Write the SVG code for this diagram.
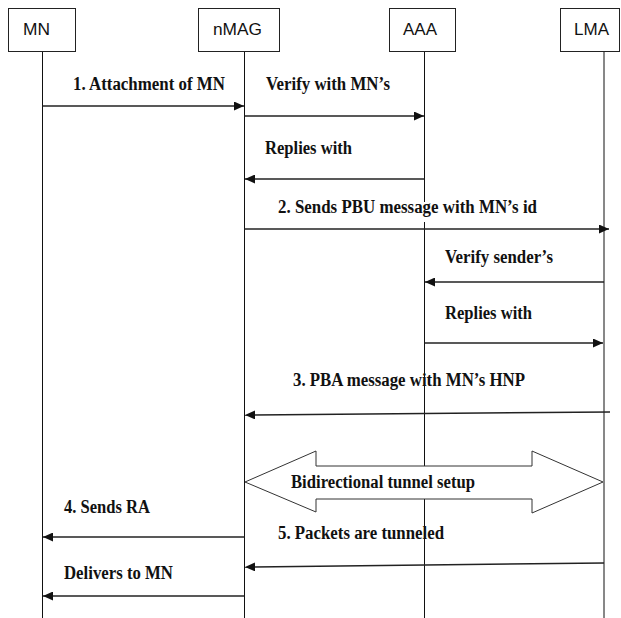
<svg xmlns="http://www.w3.org/2000/svg" width="621" height="618" viewBox="0 0 621 618">
<style>
.box{fill:#fff;stroke:#222;stroke-width:1}
.life{stroke:#111;stroke-width:1;fill:none}
.name{font-family:"Liberation Sans",Arial,sans-serif;font-size:16px;fill:#111}
.msg{stroke:#222;stroke-width:1.5;fill:none;marker-end:url(#ah)}
.lbl{font-family:"Liberation Serif","Times New Roman",serif;font-weight:bold;font-size:18px;fill:#111}
.tun{fill:#fff;stroke:#333;stroke-width:1}
</style>
<defs>
<marker id="ah" markerUnits="userSpaceOnUse" markerWidth="10" markerHeight="9" refX="10" refY="4.5" orient="auto">
<path d="M0,0 L10,4.5 L0,9 z" fill="#111"/>
</marker>
</defs>
<rect width="621" height="618" fill="#fff"/>
<g id="node-MN">
<line class="life" x1="42.5" y1="51" x2="42.5" y2="618"/>
<rect class="box" x="8.5" y="8.5" width="67" height="43"/>
<text class="name" x="23" y="35" textLength="27" lengthAdjust="spacingAndGlyphs">MN</text>
</g>
<g id="node-nMAG">
<line class="life" x1="244.5" y1="51" x2="244.5" y2="618"/>
<rect class="box" x="198.5" y="8.5" width="81" height="43"/>
<text class="name" x="213" y="35" textLength="49" lengthAdjust="spacingAndGlyphs">nMAG</text>
</g>
<g id="node-AAA">
<line class="life" x1="424.5" y1="51" x2="424.5" y2="202"/>
<line class="life" x1="424.5" y1="222" x2="424.5" y2="618"/>
<rect class="box" x="389.5" y="8.5" width="66" height="43"/>
<text class="name" x="403" y="35" textLength="34" lengthAdjust="spacingAndGlyphs">AAA</text>
</g>
<g id="node-LMA">
<line class="life" x1="604" y1="51" x2="604" y2="618"/>
<rect class="box" x="560.5" y="8.5" width="59" height="43"/>
<text class="name" x="574" y="35" textLength="35" lengthAdjust="spacingAndGlyphs">LMA</text>
</g>
<g id="connectors">
<line class="msg" x1="42.5" y1="106" x2="244" y2="106"/>
<line class="msg" x1="244.5" y1="116" x2="424" y2="116"/>
<line class="msg" x1="424.5" y1="179" x2="245" y2="179"/>
<line class="msg" x1="244.5" y1="229" x2="609" y2="229"/>
<line class="msg" x1="604" y1="282" x2="425" y2="282"/>
<line class="msg" x1="424.5" y1="343" x2="603" y2="343"/>
<line class="msg" x1="610" y1="412" x2="245" y2="415"/>
<polygon class="tun" points="245,482 316,451 316,466 532,466 532,451 603,482 532,513 532,499 316,499 316,512"/>
<line class="msg" x1="244.5" y1="537" x2="43" y2="537"/>
<line class="msg" x1="604" y1="563" x2="245" y2="567"/>
<line class="msg" x1="244.5" y1="596" x2="43" y2="596"/>
</g>
<g id="labels">
<text class="lbl" x="73" y="90" textLength="152" lengthAdjust="spacingAndGlyphs">1. Attachment of MN</text>
<text class="lbl" x="266" y="90" textLength="124" lengthAdjust="spacingAndGlyphs">Verify with MN’s</text>
<text class="lbl" x="265" y="154" textLength="87" lengthAdjust="spacingAndGlyphs">Replies with</text>
<text class="lbl" x="278" y="213" textLength="259" lengthAdjust="spacingAndGlyphs">2. Sends PBU message with MN’s id</text>
<text class="lbl" x="445" y="263" textLength="108" lengthAdjust="spacingAndGlyphs">Verify sender’s</text>
<text class="lbl" x="445" y="319" textLength="87" lengthAdjust="spacingAndGlyphs">Replies with</text>
<text class="lbl" x="293" y="386" textLength="232" lengthAdjust="spacingAndGlyphs">3. PBA message with MN’s HNP</text>
<text class="lbl" x="291" y="488" textLength="184" lengthAdjust="spacingAndGlyphs">Bidirectional tunnel setup</text>
<text class="lbl" x="64" y="513" textLength="86" lengthAdjust="spacingAndGlyphs">4. Sends RA</text>
<text class="lbl" x="278" y="539" textLength="166" lengthAdjust="spacingAndGlyphs">5. Packets are tunneled</text>
<text class="lbl" x="64" y="579" textLength="109" lengthAdjust="spacingAndGlyphs">Delivers to MN</text>
</g>
</svg>
